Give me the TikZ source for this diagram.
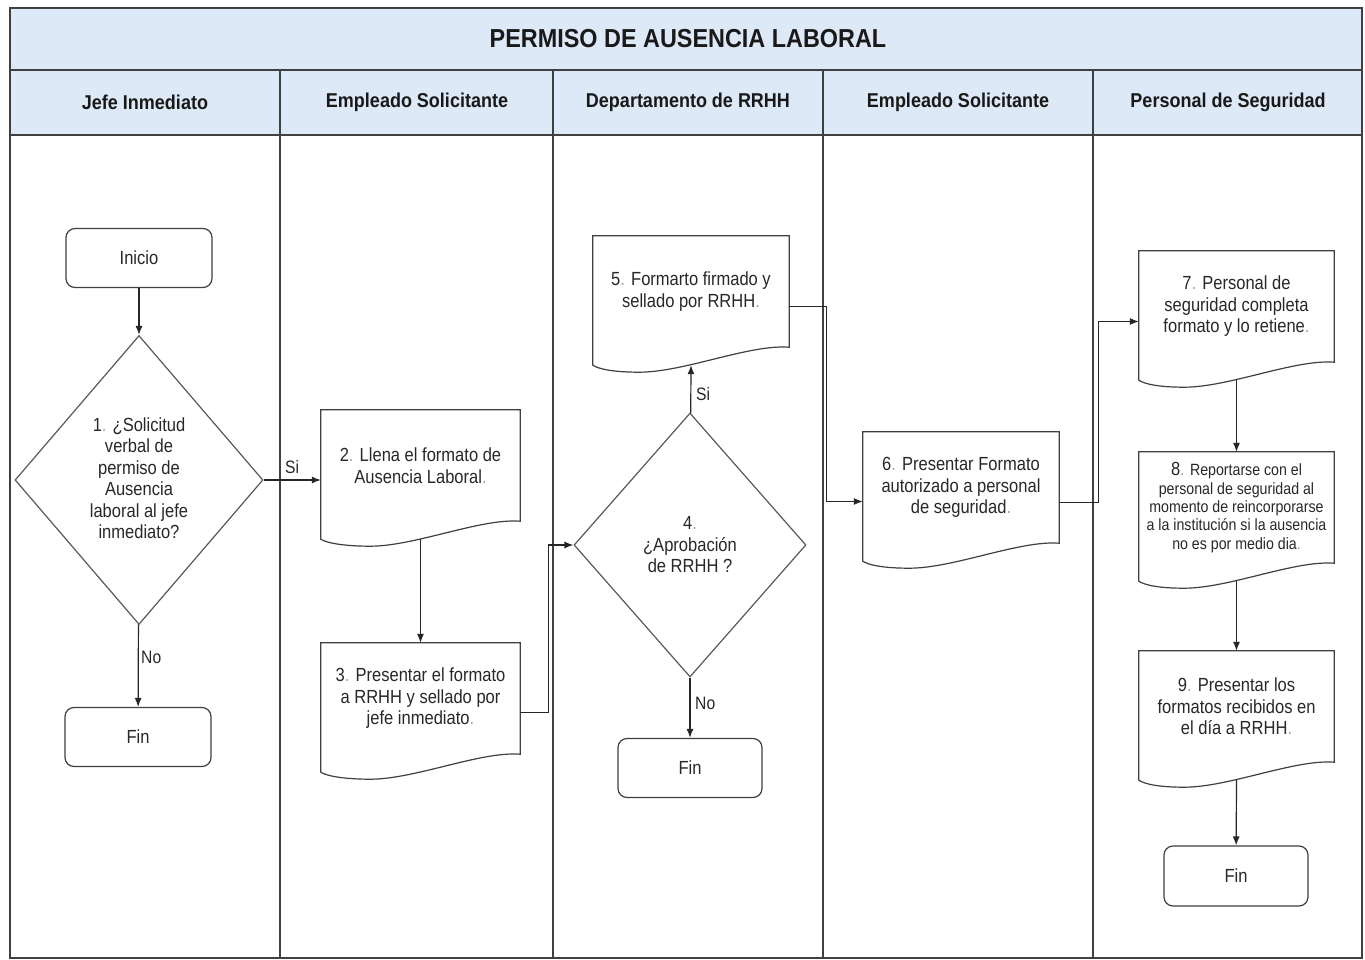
\documentclass[tikz,border=0pt]{standalone}
\usepackage{fontspec}
\setmainfont{Liberation Sans}[FakeStretch=0.87]
\newfontfamily\hdrfont{Liberation Sans}[FakeStretch=0.9]
\usetikzlibrary{shapes.geometric,arrows.meta,calc}
\definecolor{hdrblue}{RGB}{221,233,246}
\definecolor{ink}{RGB}{40,40,40}
\newcommand\dt{{\color{black!35}.}}
\newcommand\docoutline[1]{%
  \draw[shapeline] (#1.north west) -- (#1.north east) -- (#1.south east)
    .. controls +(-40,-3) and +(45,0) .. ($(#1.south east)+(-150,25)$)
    .. controls +(-25,0) and +(6,4) .. ($(#1.south west)+(0,18)$) -- cycle;
  \coordinate (#1b) at ($(#1.south)+(0,18)$);}
\begin{document}
\begin{tikzpicture}[x=1pt,y=-1pt,
  frame/.style={draw=black!75, line width=1.3pt},
  shapeline/.style={draw=black!75, line width=1.2pt},
  arr/.style={draw=black!85, line width=1.2pt, -{Latex[length=9pt,width=7pt]}},
  term/.style={rectangle, rounded corners=9pt, draw=black!75, line width=1.2pt,
    minimum width=146pt, minimum height=59pt, text=ink, font=\fontsize{19}{22}\selectfont},
  dia/.style={diamond, draw=black!65, line width=1.2pt, inner sep=0pt},
  dtext/.style={align=center, text=ink, font=\fontsize{19}{21.5}\selectfont},
  docbox/.style={rectangle, minimum width=199pt, minimum height=111pt, inner sep=0pt,
    align=center, text=ink, font=\fontsize{19}{21.5}\selectfont},
  hdr/.style={font=\hdrfont\bfseries\fontsize{20}{22}\selectfont, text=black!90},
  lbl/.style={font=\fontsize{18}{20}\selectfont, anchor=west, inner sep=0pt, text=ink}
]
\useasboundingbox (0,0) rectangle (1365,960);
\fill[white] (0,0) rectangle (1365,960);
\fill[hdrblue] (10,8) rectangle (1362,135);
\draw[frame] (10,8) rectangle (1362,958);
\draw[frame] (10,70) -- (1362,70);
\draw[frame] (10,135) -- (1362,135);
\foreach \x in {280,553,823,1093} \draw[frame] (\x,70) -- (\x,958);

\node[font=\hdrfont\bfseries\fontsize{26}{28}\selectfont, text=black!90] (title) at (688,39) {PERMISO DE AUSENCIA LABORAL};
\node[hdr] (h1) at (145,102) {Jefe Inmediato};
\node[hdr] (h2) at (417,102) {Empleado Solicitante};
\node[hdr] (h3) at (688,102) {Departamento de RRHH};
\node[hdr] (h4) at (958,102) {Empleado Solicitante};
\node[hdr] (h5) at (1228,102) {Personal de Seguridad};

% Lane 1
\node[term] (inicio) at (139,258) {Inicio};
\node[dia, minimum width=248pt, minimum height=289pt] (d1) at (139,480) {};
\node[dtext] (d1t) at (139,478) {1\dt{} ¿Solicitud\\verbal de\\permiso de\\Ausencia\\laboral al jefe\\inmediato?};
\node[term] (fin1) at (138,737) {Fin};

% Lane 2
\node[docbox] (p2) at (420.5,465.5) {2\dt{} Llena el formato de\\Ausencia Laboral\dt};
\node[docbox] (p3) at (420.5,698.5) {3\dt{} Presentar el formato\\a RRHH y sellado por\\jefe inmediato\dt};

% Lane 3
\node[docbox, minimum width=196pt] (p5) at (691,291.5) {5\dt{} Formarto firmado y\\sellado por RRHH\dt};
\node[dia, minimum width=232pt, minimum height=264pt] (d4) at (690,545) {};
\node[dtext] (d4t) at (690,545) {4\dt\\¿Aprobación\\de RRHH ?};
\node[term, minimum width=144pt] (fin3) at (690,768) {Fin};

% Lane 4
\node[docbox, minimum width=196pt] (p6) at (961,487.5) {6\dt{} Presentar Formato\\autorizado a personal\\de seguridad\dt};

% Lane 5
\node[docbox, minimum width=195pt] (p7) at (1236.5,306.5) {7\dt{} Personal de\\seguridad completa\\formato y lo retiene\dt};
\node[docbox, minimum width=195pt, font=\fontsize{16.3}{18.4}\selectfont] (p8) at (1236.5,507.5) {{\fontsize{19}{18.4}\selectfont 8\dt{}} Reportarse con el\\personal de seguridad al\\momento de reincorporarse\\a la institución si la ausencia\\no es por medio dia\dt};
\node[docbox, minimum width=195pt] (p9) at (1236.5,706.5) {9\dt{} Presentar los\\formatos recibidos en\\el día a RRHH\dt};
\node[term, minimum width=144pt, minimum height=60pt] (fin4) at (1236,876) {Fin};

\docoutline{p2}
\docoutline{p3}
\docoutline{p5}
\docoutline{p6}
\docoutline{p7}
\docoutline{p8}
\docoutline{p9}

% Connectors
\draw[arr] (inicio) -- (d1);
\draw[arr] (d1) -- (fin1);
\node[lbl] (no1) at (141,657) {No};
\draw[arr] (d1.east) -- (d1.east -| p2.west);
\node[lbl] (si1) at (285,467) {Si};
\draw[arr] (p2b) -- (p3);
\draw[arr] ($(p3.east)+(0,14)$) -- ++(28,0) |- (d4.west);
\draw[arr] (d4) -- (p5b);
\node[lbl] (si4) at (696,394) {Si};
\draw[arr] (d4) -- (fin3);
\node[lbl] (no4) at (695,703) {No};
\draw[arr] ($(p5.east)+(0,15)$) -- ++(37,0) |- ($(p6.west)+(0,14)$);
\draw[arr] ($(p6.east)+(0,15)$) -- ++(39,0) |- ($(p7.west)+(0,15)$);
\draw[arr] (p7b) -- (p8);
\draw[arr] (p8b) -- (p9);
\draw[arr] (p9b) -- (fin4);
\end{tikzpicture}
\end{document}
